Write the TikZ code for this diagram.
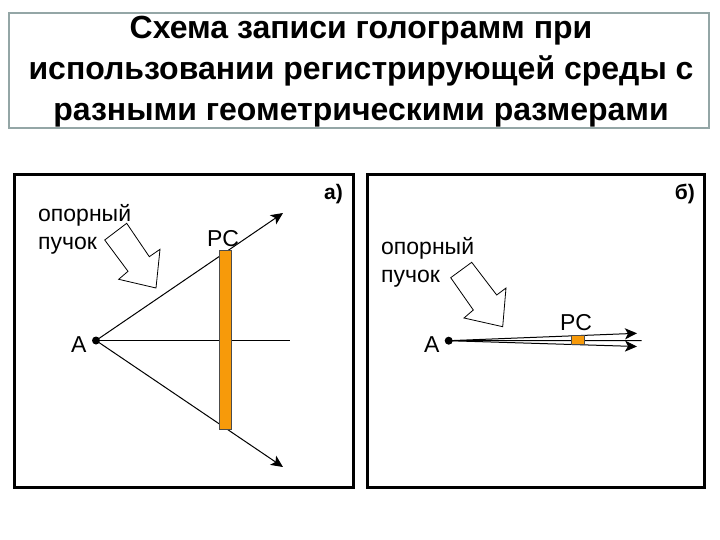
\documentclass[tikz,border=0pt]{standalone}
\usepackage{fontspec}
\setmainfont{Liberation Sans}
\usetikzlibrary{arrows.meta}
\definecolor{platecolor}{HTML}{F79A0A}
\definecolor{titleframe}{HTML}{94A6A6}

\tikzset{
    panel/.style={draw=black, line width=3pt},
    ray/.style={line width=1pt},
    rayarrow/.style={ray, -{Stealth[length=12pt, width=11pt, inset=3pt]}},
    plate/.style={draw=black!70, fill=platecolor, line width=.7pt},
    beamarrow/.style={draw=black, fill=white, line width=.8pt},
    label/.style={inner sep=0pt, font=\fontsize{23}{28}\selectfont},
    panelmark/.style={inner sep=0pt, font=\fontsize{21}{25}\selectfont\bfseries}
}

\begin{document}
\begin{tikzpicture}[x=1pt, y=-1pt]

    \useasboundingbox (0,0) rectangle (720,540);

    % Title
    \draw[titleframe, line width=2.5pt] (9,13) rectangle (709,128);
    \node[align=center, inner sep=0pt, font=\fontsize{32}{41}\selectfont\bfseries] (title) at (361,72)
        {Схема записи голограмм при\\использовании регистрирующей среды с\\разными геометрическими размерами};

    % Panel frames
    \draw[panel] (14.5,174.5) rectangle (353,487);
    \draw[panel] (367.5,174.5) rectangle (704,487);

    % Points for panel a
    \coordinate (A_a) at (96,340.5);
    \coordinate (Up_a) at (283,213);
    \coordinate (Down_a) at (283,467);
    \coordinate (Mid_a) at (290,340.5);

    % Rays from the source, then the plate over them
    \draw[rayarrow] (A_a) -- (Up_a);
    \draw[rayarrow] (A_a) -- (Down_a);
    \draw[ray] (A_a) -- (Mid_a);
    \draw[plate] (219.5,250) rectangle (231.5,429);
    \fill[black] (A_a) circle (4pt);

    % Reference beam arrow for panel a
    \draw[beamarrow] (126.7,223.3) -- (149.3,256.7) -- (160,249.3) -- (156,288)
        -- (118.7,279.3) -- (128,271.3) -- (104.7,240) -- cycle;

    % Labels for panel a
    \node[label, anchor=west] (A_label_a) at (71,345) {А};
    \node[label, anchor=west] (PC_label_a) at (207,239) {РС};
    \node[label, anchor=west, align=left] (ref_label_a) at (38,229) {опорный\\пучок};
    \node[panelmark, anchor=east] (mark_a) at (343,194) {а)};

    % Points for panel b
    \coordinate (A_b) at (448.7,340.7);
    \coordinate (Up_b) at (637,333.3);
    \coordinate (Down_b) at (637,346.5);
    \coordinate (Mid_b) at (641.7,340.5);

    % Narrow beam and small plate
    \draw[rayarrow] (A_b) -- (Up_b);
    \draw[rayarrow] (A_b) -- (Down_b);
    \draw[ray] (A_b) -- (Mid_b);
    \draw[plate] (571.3,335.7) rectangle (584.3,344.3);
    \fill[black] (A_b) circle (4pt);

    % Reference beam arrow for panel b
    \draw[beamarrow] (471.7,262.3) -- (496.7,295) -- (506,288) -- (502.7,326.7)
        -- (464,318) -- (473.3,310) -- (450.7,277.7) -- cycle;

    % Labels for panel b
    \node[label, anchor=west] (A_label_b) at (424,345) {А};
    \node[label, anchor=west] (PC_label_b) at (560,323) {РС};
    \node[label, anchor=west, align=left] (ref_label_b) at (381,262) {опорный\\пучок};
    \node[panelmark, anchor=east] (mark_b) at (695,194) {б)};

\end{tikzpicture}
\end{document}
